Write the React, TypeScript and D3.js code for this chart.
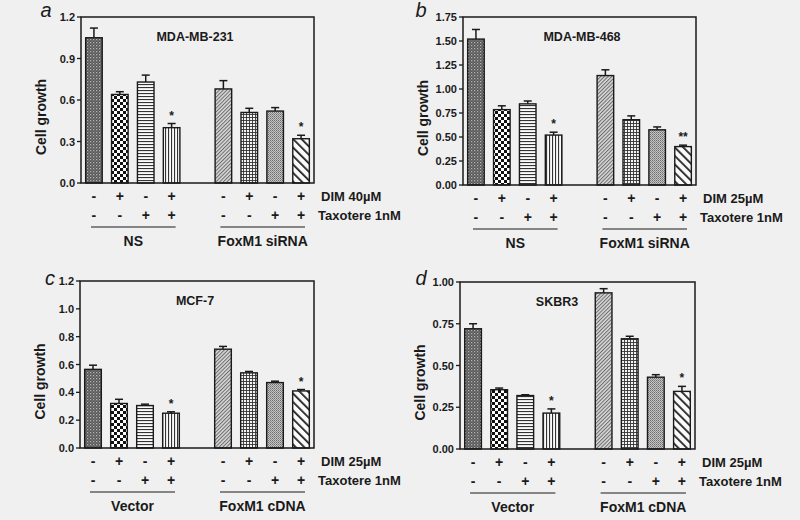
import React from "react";
import * as d3 from "d3";

// ---------- data ----------
const conditions = ["1", "2", "3", "4", "gap", "5", "6", "7", "8"];
const dimSigns = ["-", "+", "-", "+", "-", "+", "-", "+"];
const taxSigns = ["-", "-", "+", "+", "-", "-", "+", "+"];

const aValues = [1.05, 0.64, 0.73, 0.40, 0.68, 0.51, 0.52, 0.32];
const aErrors = [1.12, 0.66, 0.78, 0.43, 0.74, 0.54, 0.545, 0.345];
const aStars = ["", "", "", "*", "", "", "", "*"];
const aTicks = [0, 0.3, 0.6, 0.9, 1.2];

const bValues = [1.52, 0.785, 0.845, 0.52, 1.14, 0.68, 0.575, 0.40];
const bErrors = [1.62, 0.825, 0.875, 0.55, 1.2, 0.72, 0.605, 0.415];
const bStars = ["", "", "", "*", "", "", "", "**"];
const bTicks = [0, 0.25, 0.5, 0.75, 1.0, 1.25, 1.5, 1.75];

const cValues = [0.565, 0.32, 0.305, 0.25, 0.71, 0.54, 0.47, 0.41];
const cErrors = [0.595, 0.35, 0.315, 0.26, 0.73, 0.55, 0.48, 0.42];
const cStars = ["", "", "", "*", "", "", "", "*"];
const cTicks = [0, 0.2, 0.4, 0.6, 0.8, 1.0, 1.2];

const dValues = [0.72, 0.355, 0.32, 0.215, 0.935, 0.66, 0.43, 0.345];
const dErrors = [0.75, 0.365, 0.325, 0.24, 0.96, 0.675, 0.445, 0.375];
const dStars = ["", "", "", "*", "", "", "", "*"];
const dTicks = [0, 0.25, 0.5, 0.75, 1.0];

const patterns = ["p1", "p2", "p3", "p4", "p5", "p6", "p7", "p8"];

type PanelCfg = {
  letter: string;
  letterPos: [number, number];
  title: string;
  titleX: number;
  values: number[];
  errors: number[];
  stars: string[];
  ticks: number[];
  fmt: string;
  dimLabel: string;
  groups: [string, string];
  box: { l: number; r: number; t: number; b: number };
};

const panels: PanelCfg[] = [
  { letter: "a", letterPos: [46, 17], title: "MDA-MB-231", titleX: 195, values: aValues, errors: aErrors, stars: aStars, ticks: aTicks, fmt: ".1f", dimLabel: "DIM 40\u00b5M", groups: ["NS", "FoxM1 siRNA"], box: { l: 81, r: 314, t: 17, b: 183 } },
  { letter: "b", letterPos: [421, 17], title: "MDA-MB-468", titleX: 582, values: bValues, errors: bErrors, stars: bStars, ticks: bTicks, fmt: ".2f", dimLabel: "DIM 25\u00b5M", groups: ["NS", "FoxM1 siRNA"], box: { l: 463, r: 696, t: 17, b: 185 } },
  { letter: "c", letterPos: [50, 285], title: "MCF-7", titleX: 195, values: cValues, errors: cErrors, stars: cStars, ticks: cTicks, fmt: ".1f", dimLabel: "DIM 25\u00b5M", groups: ["Vector", "FoxM1 cDNA"], box: { l: 80, r: 314, t: 281, b: 448 } },
  { letter: "d", letterPos: [421, 285], title: "SKBR3", titleX: 557, values: dValues, errors: dErrors, stars: dStars, ticks: dTicks, fmt: ".2f", dimLabel: "DIM 25\u00b5M", groups: ["Vector", "FoxM1 cDNA"], box: { l: 460, r: 695, t: 282, b: 449 } },
];

const FONT = "'Liberation Sans', Arial, sans-serif";
const INK = "#1a1a1a";

function Patterns() {
  return (
    <defs>
      <pattern id="p1" width="3" height="3" patternUnits="userSpaceOnUse">
        <rect width="3" height="3" fill="#555" />
        <rect x="0" y="0" width="1.3" height="1.3" fill="#b5b5b5" />
        <rect x="1.5" y="1.5" width="1.2" height="1.2" fill="#8a8a8a" />
      </pattern>
      <pattern id="p2" width="6" height="6" patternUnits="userSpaceOnUse">
        <rect width="6" height="6" fill="#fff" />
        <rect x="0" y="0" width="3" height="3" fill="#111" />
        <rect x="3" y="3" width="3" height="3" fill="#111" />
      </pattern>
      <pattern id="p3" width="3" height="3" patternUnits="userSpaceOnUse">
        <rect width="3" height="3" fill="#fafafa" />
        <rect x="0" y="0" width="3" height="1.1" fill="#333" />
      </pattern>
      <pattern id="p4" width="3" height="3" patternUnits="userSpaceOnUse">
        <rect width="3" height="3" fill="#fafafa" />
        <rect x="0" y="0" width="1.1" height="3" fill="#333" />
      </pattern>
      <pattern id="p5" width="2.6" height="3" patternUnits="userSpaceOnUse" patternTransform="rotate(45)">
        <rect width="2.6" height="3" fill="#d8d8d8" />
        <rect x="0" y="0" width="1" height="3" fill="#6a6a6a" />
      </pattern>
      <pattern id="p6" width="3" height="3" patternUnits="userSpaceOnUse">
        <rect width="3" height="3" fill="#f4f4f4" />
        <rect x="0" y="0" width="3" height="0.9" fill="#333" />
        <rect x="0" y="0" width="0.9" height="3" fill="#333" />
      </pattern>
      <pattern id="p7" width="2" height="2" patternUnits="userSpaceOnUse">
        <rect width="2" height="2" fill="#c4c4c4" />
        <rect x="0" y="0" width="1" height="1" fill="#6e6e6e" />
        <rect x="1" y="1" width="1" height="1" fill="#8c8c8c" />
      </pattern>
      <pattern id="p8" width="6" height="6" patternUnits="userSpaceOnUse" patternTransform="rotate(-45)">
        <rect width="6" height="6" fill="#fafafa" />
        <rect x="0" y="0" width="1.8" height="6" fill="#222" />
      </pattern>
    </defs>
  );
}

function Panel({ cfg }: { cfg: PanelCfg }) {
  const { box } = cfg;
  const x = d3.scaleBand<string>().domain(conditions).range([box.l, box.r]).paddingInner(0.36).paddingOuter(0.18);
  const maxTick = cfg.ticks[cfg.ticks.length - 1];
  const y = d3.scaleLinear().domain([0, maxTick]).range([box.b, box.t]);
  const barKeys = conditions.filter((c) => c !== "gap");
  const bw = x.bandwidth();
  const cx = (i: number) => (x(barKeys[i]) as number) + bw / 2;
  const fmt = d3.format(cfg.fmt);
  const row1 = box.b + 13;
  const row2 = box.b + 32;
  const lineY = box.b + 44;
  const labY = box.b + 58;
  return (
    <g fontFamily={FONT} fill={INK}>
      <text x={cfg.letterPos[0]} y={cfg.letterPos[1]} fontSize={20} fontStyle="italic" textAnchor="middle">
        {cfg.letter}
      </text>
      {/* bars */}
      {cfg.values.map((v, i) => {
        const bx = x(barKeys[i]) as number;
        return (
          <g key={i}>
            <line x1={cx(i)} x2={cx(i)} y1={y(v)} y2={y(cfg.errors[i])} stroke={INK} strokeWidth={1.5} />
            <line x1={cx(i) - 4} x2={cx(i) + 4} y1={y(cfg.errors[i])} y2={y(cfg.errors[i])} stroke={INK} strokeWidth={1.5} />
            <rect x={bx} y={y(v)} width={bw} height={box.b - y(v)} fill={`url(#${patterns[i]})`} stroke={INK} strokeWidth={1.4} />
            {cfg.stars[i] && (
              <text x={cx(i)} y={y(cfg.errors[i]) - 4} fontSize={12} fontWeight="bold" textAnchor="middle">
                {cfg.stars[i]}
              </text>
            )}
          </g>
        );
      })}
      {/* frame */}
      <rect x={box.l} y={box.t} width={box.r - box.l} height={box.b - box.t} fill="none" stroke={INK} strokeWidth={1.5} />
      {/* y ticks */}
      {cfg.ticks.map((t) => (
        <g key={t}>
          <line x1={box.l - 4} x2={box.l} y1={y(t)} y2={y(t)} stroke={INK} strokeWidth={1.3} />
          <text x={box.l - 6} y={y(t) + 4} fontSize={11} fontWeight="bold" textAnchor="end">
            {fmt(t)}
          </text>
        </g>
      ))}
      <text
        transform={`translate(${box.l - 35},${(box.t + box.b) / 2 + 17}) rotate(-90)`}
        fontSize={14}
        fontWeight="bold"
        textAnchor="middle"
      >
        Cell growth
      </text>
      <text x={cfg.titleX} y={box.t + 24} fontSize={12.5} fontWeight="bold" textAnchor="middle">
        {cfg.title}
      </text>
      {/* sign rows */}
      {dimSigns.map((s, i) => (
        <text key={"d" + i} x={cx(i)} y={row1 + 5} fontSize={14} fontWeight="bold" textAnchor="middle">
          {s}
        </text>
      ))}
      {taxSigns.map((s, i) => (
        <text key={"t" + i} x={cx(i)} y={row2 + 5} fontSize={14} fontWeight="bold" textAnchor="middle">
          {s}
        </text>
      ))}
      <text x={box.r + 7} y={row1 + 5} fontSize={13} fontWeight="bold">
        {cfg.dimLabel}
      </text>
      <text x={box.r + 4} y={row2 + 5} fontSize={13} fontWeight="bold">
        Taxotere 1nM
      </text>
      {[0, 1].map((g) => {
        const x1 = cx(g * 4) - 3;
        const x2 = cx(g * 4 + 3) + 4;
        return (
          <g key={g}>
            <line x1={x1} x2={x2} y1={lineY} y2={lineY} stroke={INK} strokeWidth={1.2} />
            <text x={(x1 + x2) / 2} y={labY + 5} fontSize={14} fontWeight="bold" textAnchor="middle">
              {cfg.groups[g]}
            </text>
          </g>
        );
      })}
    </g>
  );
}

export default function App() {
  return (
    <svg width={800} height={520} style={{ position: "absolute", left: 0, top: 0 }}>
      <Patterns />
      <rect width={800} height={520} fill="#f0f0f0" />
      {panels.map((p) => (
        <Panel key={p.letter} cfg={p} />
      ))}
    </svg>
  );
}
